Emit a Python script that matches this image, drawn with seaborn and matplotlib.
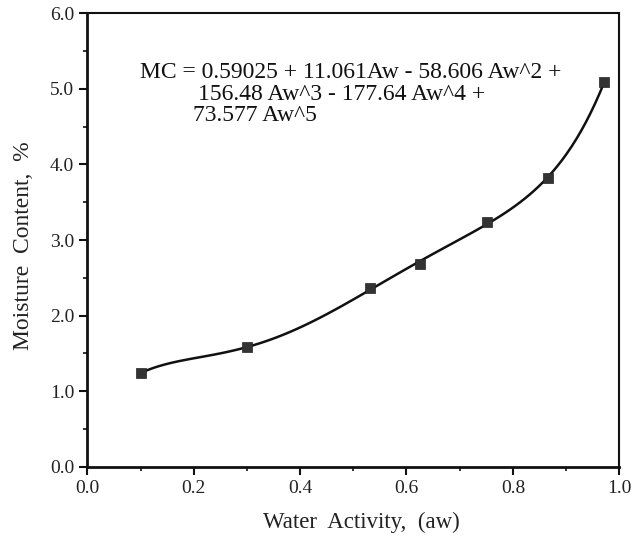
import numpy as np
import pandas as pd
import matplotlib
matplotlib.use("Agg")
import matplotlib.pyplot as plt
import seaborn as sns
from matplotlib.ticker import MultipleLocator, FormatStrFormatter

# Data
water_activity = [0.1004, 0.2997, 0.5315, 0.6254, 0.7520, 0.8656, 0.9720]
moisture_content = [1.24, 1.58, 2.361, 2.684, 3.243, 3.817, 5.096]

eq_lines = [
    "MC = 0.59025 + 11.061Aw - 58.606 Aw^2 +",
    "156.48 Aw^3 - 177.64 Aw^4 +",
    "73.577 Aw^5",
]

df = pd.DataFrame({"aw": water_activity, "mc": moisture_content})

sns.set_theme(style="white")
plt.rcParams['font.family'] = ['Liberation Serif', 'DejaVu Serif']

fig = plt.figure(figsize=(6.34, 5.43), dpi=100)
ax = fig.add_axes([0.1377, 0.1405, 0.8391, 0.835])

# 5th order polynomial fit, as in the equation
sns.regplot(data=df, x="aw", y="mc", order=5, ci=None, scatter=False,
            truncate=True, line_kws={"color": "#111111", "lw": 1.8}, ax=ax)
sns.scatterplot(data=df, x="aw", y="mc", marker="s", s=50, color="#333333",
                edgecolor="#222222", linewidth=0.5, zorder=5, ax=ax)

ax.set_xlim(0, 1.0)
ax.set_ylim(0, 6.0)
ax.xaxis.set_major_locator(MultipleLocator(0.2))
ax.xaxis.set_minor_locator(MultipleLocator(0.1))
ax.yaxis.set_major_locator(MultipleLocator(1.0))
ax.yaxis.set_minor_locator(MultipleLocator(0.5))
ax.xaxis.set_major_formatter(FormatStrFormatter("%.1f"))
ax.yaxis.set_major_formatter(FormatStrFormatter("%.1f"))
ax.tick_params(which="major", direction="out", length=6, width=1.5,
               color="#111111", labelsize=14, labelcolor="#222222",
               bottom=True, left=True, top=False, right=False)
ax.tick_params(which="minor", direction="out", length=3, width=1.2,
               color="#111111", bottom=True, left=True, top=False, right=False)

for name, sp in ax.spines.items():
    sp.set_color("#111111")
    sp.set_linewidth(1.5 if name in ("top", "right") else 2.0)

ax.set_xlabel("Water  Activity,  (aw)", fontsize=16.5, color="#222222")
ax.set_ylabel("Moisture  Content,  %", fontsize=17, color="#222222")
ax.xaxis.set_label_coords(0.516, -0.1)
ax.yaxis.set_label_coords(-0.1, 0.487)

ax.text(0.099, 5.22, eq_lines[0], fontsize=17, color="#111111", va="center", ha="left")
ax.text(0.208, 4.92, eq_lines[1], fontsize=17, color="#111111", va="center", ha="left")
ax.text(0.199, 4.65, eq_lines[2], fontsize=17, color="#111111", va="center", ha="left")

fig.savefig("out.png", dpi=100)
